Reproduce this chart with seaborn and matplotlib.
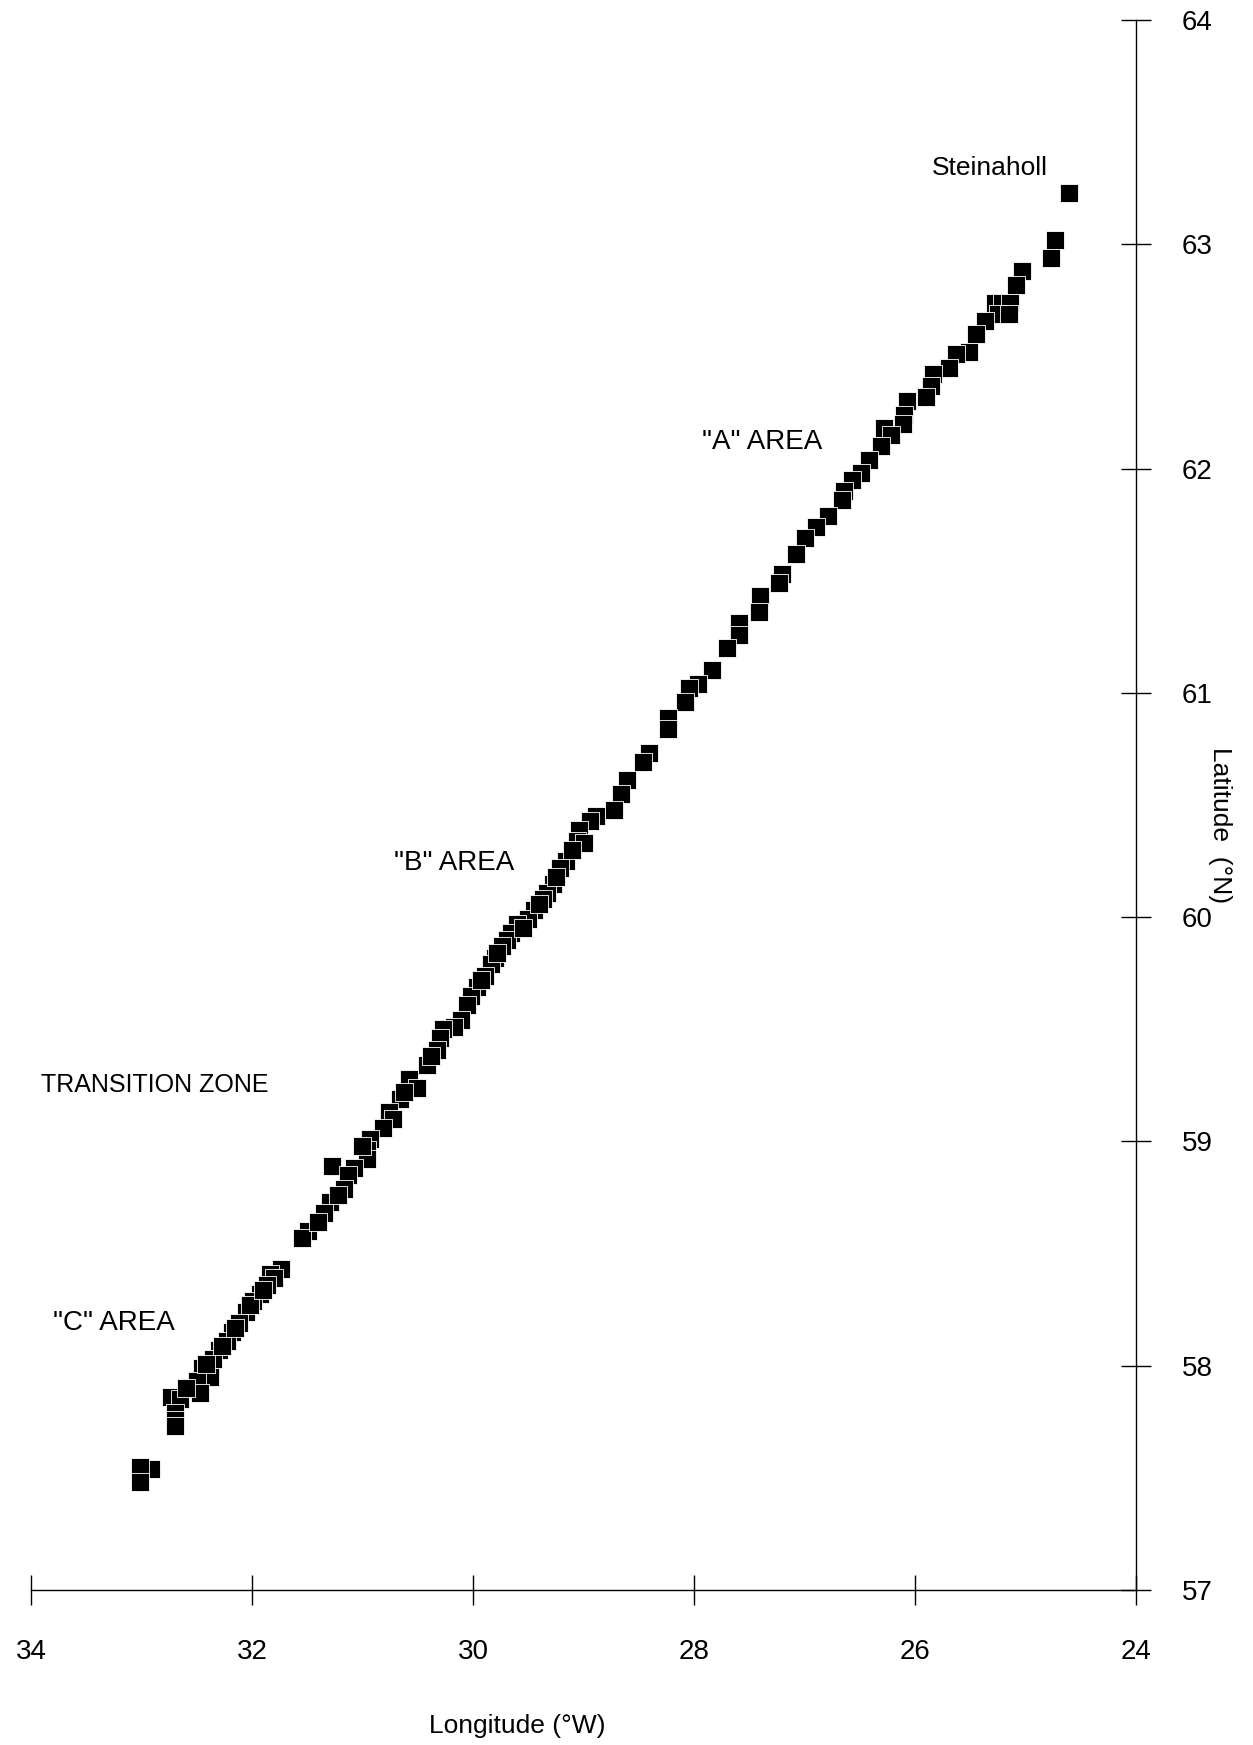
import pandas as pd
import seaborn as sns
import matplotlib.pyplot as plt

# station positions (longitude in degrees W, latitude in degrees N)
lon = [24.61, 24.73, 24.77, 25.03, 25.09, 25.28, 25.21, 25.14, 25.25, 25.15,
       25.37, 25.45, 25.51, 25.63, 25.69, 25.84, 25.86, 25.90, 26.07, 26.10,
       26.11, 26.28, 26.22, 26.31, 26.42, 26.49, 26.57, 26.64, 26.66, 26.79,
       26.90, 27.00, 27.08, 27.20, 27.23, 27.40, 27.41, 27.59, 27.59, 27.70,
       27.84, 27.96, 28.05, 28.08, 28.24, 28.24, 28.41, 28.46, 28.61, 28.66,
       28.72, 28.89, 28.94, 29.04, 29.06, 29.00, 29.16, 29.21, 29.28, 29.33,
       29.37, 29.45, 29.50, 29.60, 29.66, 29.69, 29.74, 29.80, 29.84, 29.89,
       29.96, 30.02, 30.05, 30.11, 30.17, 30.27, 30.30, 30.33, 30.42, 30.58,
       30.51, 30.66, 30.76, 30.72, 30.81, 30.93, 30.96, 30.96, 31.28, 31.08,
       31.13, 31.17, 31.29, 31.35, 31.49, 31.55, 31.74, 31.84, 31.80, 31.86,
       31.93, 31.99, 32.05, 32.12, 32.18, 32.23, 32.30, 32.35, 32.45, 32.38,
       32.50, 32.47, 32.73, 32.65, 32.70, 32.70, 32.70, 32.91, 33.01, 33.01,
       29.10, 29.25, 29.40, 29.55, 29.78, 29.93, 30.38, 30.62, 31.00, 31.22,
       31.40, 32.02, 32.15, 32.27, 32.42, 32.60, 31.90]
lat = [63.23, 63.02, 62.94, 62.88, 62.82, 62.74, 62.74, 62.74, 62.69, 62.69,
       62.66, 62.60, 62.52, 62.51, 62.45, 62.42, 62.37, 62.32, 62.30, 62.24,
       62.20, 62.18, 62.15, 62.10, 62.04, 61.98, 61.95, 61.90, 61.86, 61.79,
       61.74, 61.69, 61.62, 61.53, 61.49, 61.43, 61.36, 61.31, 61.26, 61.20,
       61.10, 61.04, 61.02, 60.96, 60.89, 60.84, 60.73, 60.69, 60.61, 60.55,
       60.48, 60.45, 60.43, 60.39, 60.34, 60.33, 60.25, 60.22, 60.15, 60.11,
       60.08, 60.03, 59.99, 59.97, 59.93, 59.90, 59.87, 59.82, 59.79, 59.74,
       59.69, 59.65, 59.61, 59.54, 59.51, 59.50, 59.46, 59.41, 59.34, 59.28,
       59.24, 59.19, 59.13, 59.10, 59.06, 59.01, 58.96, 58.92, 58.89, 58.88,
       58.85, 58.79, 58.73, 58.68, 58.60, 58.57, 58.43, 58.41, 58.39, 58.36,
       58.32, 58.29, 58.24, 58.19, 58.15, 58.11, 58.07, 58.03, 57.99, 57.95,
       57.93, 57.88, 57.86, 57.85, 57.79, 57.76, 57.73, 57.54, 57.55, 57.48,
       60.30, 60.18, 60.06, 59.95, 59.84, 59.72, 59.38, 59.22, 58.98, 58.76,
       58.64, 58.27, 58.17, 58.09, 58.01, 57.90, 58.34]

labels = ["Steinaholl", '"A" AREA', '"B" AREA', "TRANSITION ZONE", '"C" AREA']
label_lon = [25.32, 27.38, 30.17, 33.91, 33.80]
label_lat = [63.34, 62.12, 60.24, 59.25, 58.19]

df = pd.DataFrame({"lon": lon, "lat": lat})

sns.set_theme(style="white")
plt.rcParams["font.family"] = ["Liberation Sans", "DejaVu Sans"]
plt.rcParams["text.color"] = "black"

fig = plt.figure(figsize=(12.53, 17.45), dpi=100)
ax = fig.add_axes([0.0247, 0.0888, 0.882, 0.8997])

sns.scatterplot(data=df, x="lon", y="lat", marker="s", s=150, color="black",
                edgecolor="white", linewidth=0.6, ax=ax, legend=False)

ax.set_xlim(34, 24)
ax.set_ylim(57, 64)
ax.set_xticks([34, 32, 30, 28, 26, 24])
ax.set_yticks([57, 58, 59, 60, 61, 62, 63, 64])

sns.despine(ax=ax, left=True, top=True, right=False, bottom=False)
ax.yaxis.tick_right()
ax.yaxis.set_label_position("right")
for side in ["bottom", "right"]:
    ax.spines[side].set_color("black")
    ax.spines[side].set_linewidth(1.0)
ax.tick_params(axis="both", direction="inout", length=22, width=1.0,
               color="black", labelsize=20, labelcolor="black")
ax.tick_params(axis="x", pad=24, bottom=True)
ax.tick_params(axis="y", pad=22, right=True, left=False)

ax.set_xlabel("Longitude (°W)", fontsize=19, color="black")
ax.set_ylabel("Latitude  (°N)", fontsize=19, color="black", rotation=270)
ax.xaxis.set_label_coords(0.44, -0.079)
ax.yaxis.set_label_coords(1.087, 0.487)

for txt, x, y in zip(labels, label_lon, label_lat):
    if txt == "TRANSITION ZONE":
        ax.text(x, y, txt, fontsize=18, ha="left", va="center", color="black")
    elif txt == '"C" AREA':
        ax.text(x, y, txt, fontsize=20, ha="left", va="center", color="black")
    elif txt == "Steinaholl":
        ax.text(x, y, txt, fontsize=19, ha="center", va="center", color="black")
    else:
        ax.text(x, y, txt, fontsize=20, ha="center", va="center", color="black")

plt.savefig("out.png", dpi=100)
